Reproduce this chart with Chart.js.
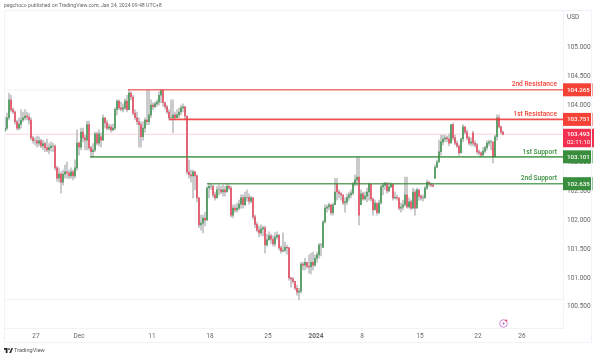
<!DOCTYPE html>
<html>
<head>
<meta charset="utf-8">
<script src="https://cdn.jsdelivr.net/npm/chart.js@4"></script>
<style>
  html, body { margin: 0; padding: 0; background: #fff; }
  body { width: 600px; height: 357px; position: relative; overflow: hidden; font-family: Roboto, "Liberation Sans", sans-serif; }
  #chartFx { position: absolute; left: 0; top: 0; }
  .frame { position: absolute; left: 4px; top: 10px; width: 588px; height: 333px; border: 1px solid #f0f3fa; box-sizing: border-box; }
  .head { position: absolute; left: 4px; top: 1px; font-size: 5.2px; line-height: 8px; color: #666; white-space: nowrap; }
  .foot { position: absolute; left: 14px; top: 346px; font-size: 5.6px; line-height: 8px; color: #555; white-space: nowrap; }
  .logo { position: absolute; left: 4px; top: 348px; }
  .cur { position: absolute; left: 567px; top: 13px; font-size: 6.5px; line-height: 9px; color: #666; }
  .flash { position: absolute; left: 498px; top: 318px; }
</style>
</head>
<body>
<canvas id="chartFx" width="600" height="357"></canvas>
<div class="frame"></div>
<div class="head">pegchoco published on TradingView.com, Jan 24, 2024 09:48 UTC+8</div>
<div class="cur">USD</div>
<svg class="flash" width="11" height="11" viewBox="0 0 11 11">
  <circle cx="5.5" cy="5.5" r="3.8" fill="none" stroke="#c77dd8" stroke-width="0.9"/>
  <path d="M6.2 3.4 4.2 6h1.3L4.9 7.7 7 5H5.7z" fill="#b45cc8"/>
  <circle cx="8.3" cy="2.5" r="1" fill="#f23645"/>
</svg>
<svg class="logo" width="9" height="5" viewBox="0 0 36 20"><path d="M0 0h14v20H7V7H0z M30 0h6l-8 20h-7z" fill="#222"/><circle cx="20" cy="4" r="3.5" fill="#222"/></svg>
<div class="foot">TradingView</div>
<script>
const opens = [
  103.55,103.60,103.78,104.09,103.92,103.88,103.71,103.60,103.67,103.74,
  103.78,103.81,103.79,103.74,103.43,103.38,103.38,103.34,103.38,103.29,
  103.33,103.26,103.22,103.26,103.29,103.29,102.91,102.73,102.80,102.66,
  102.80,102.84,102.82,102.77,102.84,102.77,102.91,103.34,103.27,103.53,
  103.43,103.39,103.66,103.26,103.19,103.22,103.50,103.34,103.45,103.39,
  103.78,103.69,103.60,103.62,103.57,103.60,103.92,104.07,103.95,103.93,
  103.95,104.07,103.92,104.21,104.14,103.86,103.78,103.71,103.66,103.45,
  103.60,103.74,103.71,103.83,104.00,103.97,104.02,104.05,104.17,104.26,
  104.04,103.97,103.88,103.78,103.78,103.83,103.78,103.83,103.88,103.95,
  103.97,103.81,102.84,102.79,102.77,102.84,102.77,102.39,101.92,101.95,
  102.04,102.00,102.56,102.59,102.59,102.44,102.39,102.53,102.53,102.49,
  102.53,102.49,102.59,102.56,102.09,102.21,102.18,102.21,102.28,102.39,
  102.27,102.40,102.40,102.33,102.39,102.06,101.93,101.83,101.78,101.85,
  101.87,101.57,101.66,101.73,101.67,101.59,101.71,101.74,101.52,101.47,
  101.48,101.53,101.52,101.00,100.98,100.94,100.82,100.75,100.77,101.24,
  101.22,101.27,101.20,101.19,101.27,101.22,101.34,101.40,101.57,101.53,
  101.97,102.21,102.23,102.27,102.13,102.27,102.63,102.49,102.46,102.44,
  102.30,102.32,102.40,102.44,102.47,102.63,102.70,102.75,102.27,102.46,
  102.37,102.42,102.49,102.63,102.37,102.18,102.30,102.13,102.30,102.58,
  102.61,102.65,102.51,102.58,102.63,102.39,102.40,102.39,102.21,102.23,
  102.27,102.44,102.23,102.32,102.21,102.49,102.21,102.53,102.42,102.39,
  102.39,102.56,102.66,102.63,102.61,102.73,102.92,103.01,103.19,103.36,
  103.41,103.43,103.41,103.34,103.66,103.43,103.34,103.29,103.17,103.41,
  103.62,103.53,103.43,103.34,103.52,103.34,103.31,103.19,103.17,103.13,
  103.20,103.26,103.34,103.36,103.36,103.10,103.45,103.78,103.62,103.53
];
const closes = [
  103.60,103.78,104.09,103.92,103.88,103.71,103.60,103.67,103.74,103.78,
  103.81,103.79,103.74,103.43,103.38,103.38,103.34,103.38,103.29,103.33,
  103.26,103.22,103.26,103.29,103.29,102.91,102.73,102.80,102.66,102.80,
  102.84,102.82,102.77,102.84,102.77,102.91,103.34,103.27,103.53,103.43,
  103.39,103.66,103.26,103.19,103.22,103.50,103.34,103.50,103.39,103.78,
  103.69,103.60,103.62,103.57,103.60,103.92,104.07,103.95,103.93,103.95,
  104.07,103.92,104.21,104.14,103.86,103.78,103.71,103.66,103.45,103.60,
  103.74,103.71,103.83,104.00,103.97,104.02,104.05,104.17,104.26,104.04,
  103.97,103.88,103.78,103.78,103.83,103.78,103.83,103.88,103.95,103.97,
  103.81,102.84,102.79,102.77,102.84,102.77,102.39,101.92,101.95,102.04,
  102.00,102.56,102.59,102.59,102.44,102.39,102.53,102.53,102.49,102.53,
  102.49,102.59,102.56,102.09,102.21,102.18,102.21,102.28,102.39,102.27,
  102.40,102.40,102.33,102.39,102.06,101.93,101.83,101.78,101.85,101.87,
  101.57,101.66,101.73,101.67,101.59,101.71,101.74,101.52,101.47,101.48,
  101.53,101.52,101.00,100.98,100.94,100.82,100.75,100.77,101.24,101.22,
  101.27,101.20,101.19,101.27,101.22,101.34,101.40,101.57,101.57,101.97,
  102.21,102.23,102.27,102.13,102.27,102.49,102.49,102.46,102.44,102.30,
  102.32,102.40,102.44,102.47,102.63,102.70,102.75,102.09,102.46,102.37,
  102.42,102.49,102.63,102.37,102.18,102.30,102.13,102.30,102.58,102.61,
  102.65,102.51,102.58,102.63,102.39,102.40,102.39,102.21,102.23,102.27,
  102.44,102.23,102.32,102.21,102.49,102.21,102.53,102.42,102.39,102.39,
  102.56,102.66,102.63,102.61,102.59,102.92,103.01,103.19,103.36,103.41,
  103.43,103.41,103.34,103.66,103.43,103.34,103.29,103.17,103.41,103.62,
  103.53,103.43,103.34,103.36,103.34,103.31,103.19,103.17,103.13,103.20,
  103.26,103.34,103.36,103.36,103.10,103.45,103.78,103.62,103.53,103.49
];
const highs = [
  103.79,103.86,104.21,104.17,103.95,103.90,103.74,103.78,103.92,103.88,
  103.92,103.88,103.85,103.78,103.46,103.43,103.46,103.45,103.41,103.39,
  103.36,103.41,103.33,103.36,103.34,103.31,102.94,102.91,102.84,102.87,
  102.96,103.01,102.87,102.91,102.87,103.05,103.57,103.36,103.60,103.60,
  103.48,103.72,103.72,103.29,103.33,103.53,103.53,103.57,103.52,103.83,
  103.78,103.74,103.67,103.66,103.67,103.95,104.09,104.09,104.05,104.02,
  104.11,104.17,104.26,104.23,104.17,103.92,103.88,103.78,103.71,103.71,
  103.78,104.26,104.26,104.09,104.04,104.05,104.09,104.23,104.26,104.26,
  104.05,104.00,103.92,104.09,104.09,103.88,103.92,103.95,104.00,104.02,
  103.98,103.81,103.05,102.87,102.87,102.85,102.79,102.39,102.09,102.09,
  102.14,102.59,102.65,102.63,102.61,102.49,102.59,102.61,102.59,102.61,
  102.59,102.63,102.61,102.59,102.27,102.27,102.30,102.35,102.44,102.44,
  102.49,102.53,102.46,102.42,102.40,102.09,101.97,101.90,101.92,101.90,
  101.90,101.76,101.80,101.76,101.73,101.78,101.80,101.76,101.55,101.78,
  101.62,101.57,101.53,101.01,101.01,100.89,100.87,100.82,101.27,101.27,
  101.34,101.27,101.40,101.43,101.45,101.40,101.45,101.60,101.60,102.00,
  102.27,102.27,102.30,102.27,102.30,102.73,102.73,102.53,102.49,102.44,
  102.39,102.46,102.49,102.53,102.66,102.79,103.10,103.10,102.53,102.49,
  102.49,102.56,102.65,102.53,102.39,102.35,102.25,102.35,102.61,102.65,
  102.65,102.61,102.65,102.65,102.63,102.49,102.44,102.32,102.30,102.35,
  102.75,102.75,102.39,102.35,102.56,102.53,102.56,102.53,102.44,102.44,
  102.59,102.70,102.68,102.65,102.63,102.96,103.05,103.39,103.48,103.48,
  103.48,103.46,103.50,103.66,103.69,103.48,103.38,103.31,103.43,103.66,
  103.62,103.57,103.46,103.43,103.55,103.38,103.34,103.22,103.19,103.26,
  103.29,103.38,103.39,103.39,103.26,103.48,103.83,103.83,103.64,103.55
];
const lows = [
  103.55,103.57,103.74,103.88,103.85,103.67,103.57,103.57,103.60,103.71,
  103.74,103.74,103.67,103.39,103.34,103.31,103.27,103.29,103.26,103.22,
  103.19,103.19,103.15,103.20,103.19,102.87,102.68,102.66,102.47,102.61,
  102.73,102.73,102.72,102.73,102.70,102.73,102.87,103.13,103.22,103.36,
  103.22,103.22,103.22,103.10,103.10,103.19,103.31,103.29,103.27,103.39,
  103.60,103.57,103.57,103.53,103.55,103.57,103.83,103.92,103.90,103.88,
  103.92,103.88,103.92,104.09,103.83,103.74,103.66,103.27,103.27,103.39,
  103.53,103.66,103.66,103.78,103.92,103.95,103.98,104.00,104.04,103.98,
  103.93,103.85,103.74,103.74,103.52,103.74,103.78,103.78,103.83,103.88,
  103.74,102.80,102.73,102.66,102.39,102.53,102.32,101.87,101.83,101.78,
  101.90,102.00,102.39,102.53,102.40,102.35,102.40,102.44,102.46,102.42,
  102.42,102.49,102.53,102.06,102.04,102.14,102.14,102.18,102.21,102.21,
  102.25,102.33,102.28,102.30,102.02,101.87,101.80,101.71,101.74,101.73,
  101.43,101.55,101.66,101.60,101.55,101.55,101.67,101.48,101.43,101.45,
  101.45,101.41,100.96,100.84,100.91,100.79,100.70,100.62,100.74,101.14,
  101.14,101.17,101.08,101.07,101.14,101.20,101.27,101.34,101.38,101.53,
  101.95,102.14,102.18,102.09,102.09,102.27,102.35,102.39,102.35,102.27,
  102.14,102.27,102.35,102.39,102.44,102.59,102.61,101.92,102.27,102.35,
  102.35,102.32,102.35,102.33,102.09,102.21,102.09,102.11,102.28,102.44,
  102.53,102.47,102.49,102.56,102.35,102.37,102.35,102.18,102.14,102.18,
  102.25,102.21,102.21,102.18,102.21,102.09,102.27,102.35,102.35,102.33,
  102.39,102.53,102.59,102.58,102.58,102.73,102.91,103.05,103.13,103.31,
  103.36,103.36,103.29,103.36,103.39,103.31,103.26,103.13,103.17,103.36,
  103.50,103.39,103.31,103.29,103.29,103.27,103.15,103.13,103.10,103.13,
  103.17,103.22,103.29,103.22,102.99,103.10,103.39,103.60,103.50,103.48
];

const levelNames = ['2nd Resistance', '1st Resistance', '1st Support', '2nd Support'];
const levelValues = [104.265, 103.751, 103.101, 102.635];
const levelStarts = [61.5, 82, 42.5, 101];
const levelColors = ['#f44336', '#f44336', '#388e3c', '#388e3c'];
const levelLines = ['rgba(240,84,84,0.8)', 'rgba(240,60,60,0.9)', 'rgba(56,142,60,0.8)', 'rgba(56,142,60,0.8)'];

const lastPrice = 103.493;
const countdown = '02:11:10';
const rangeMarks = [104.26, 100.62];

const yTicks = [100.5, 101, 101.5, 102, 102.5, 103, 103.5, 104, 104.5, 105];
const xTickPos = [15.5, 37, 73.5, 102.5, 131.5, 155.5, 178.5, 207.5, 236.5, 258.5];
const xTickNames = ['27', 'Dec', '11', '18', '25', '2024', '8', '15', '22', '26'];

const xMin = -0.5, xMax = 279;
const upCol = '#4f9c5f', downCol = '#e9566a', wickCol = '#c4c4c8';

const candleWicks = lows.map((l, i) => ({x: i, y: [l, highs[i]]}));
const candleBodies = opens.map((o, i) => ({x: i, y: [o, closes[i]]}));
const bodyColors = opens.map((o, i) => closes[i] >= o ? upCol : downCol);

const levelSets = levelValues.map((v, i) => ({
  type: 'line',
  data: [{x: levelStarts[i], y: v}, {x: xMax, y: v}],
  borderColor: levelLines[i],
  borderWidth: 1.6,
  pointRadius: 0,
  order: 0
}));
const markSets = rangeMarks.map(v => ({
  type: 'line',
  data: [{x: xMin, y: v}, {x: xMax, y: v}],
  borderColor: '#eff1f6',
  borderWidth: 1,
  pointRadius: 0,
  order: 4
}));

// tags on the price axis, drawn last so they cover the ticks like in TradingView
const tagPlugin = {
  id: 'tags',
  afterDraw(chart) {
    const ctx = chart.ctx, y = chart.scales.y, area = chart.chartArea;
    ctx.save();
    ctx.textBaseline = 'middle';
    levelValues.forEach((v, i) => {
      const py = y.getPixelForValue(v);
      ctx.fillStyle = levelColors[i];
      ctx.fillRect(area.right, py - 6.5, 29.5, 13);
      ctx.fillStyle = '#fff';
      ctx.textAlign = 'left';
      ctx.font = '500 6.2px Roboto';
      ctx.fillText(v.toFixed(3), area.right + 4, py + 0.3);
      ctx.fillStyle = levelColors[i];
      ctx.textAlign = 'right';
      ctx.font = '500 6.6px Roboto';
      ctx.fillText(levelNames[i], area.right - 6, py - 5);
    });
    const py = y.getPixelForValue(lastPrice);
    ctx.fillStyle = '#f2304f';
    ctx.fillRect(area.right, py - 5.5, 31, 18.5);
    ctx.fillStyle = '#fff';
    ctx.textAlign = 'left';
    ctx.font = '500 6.2px Roboto';
    ctx.fillText(lastPrice.toFixed(3), area.right + 4, py);
    ctx.font = '6px Roboto';
    ctx.fillText(countdown, area.right + 4, py + 8);
    ctx.restore();
  }
};

new Chart(document.getElementById('chartFx'), {
  type: 'bar',
  data: {
    datasets: [
      ...levelSets,
      {
        type: 'line',
        data: [{x: xMin, y: lastPrice}, {x: xMax, y: lastPrice}],
        borderColor: 'rgba(242,48,79,0.22)',
        borderWidth: 1,
        pointRadius: 0,
        order: 3
      },
      ...markSets,
      {data: candleBodies, backgroundColor: bodyColors, barThickness: 1.1, grouped: false, order: 1},
      {data: candleWicks, backgroundColor: wickCol, barThickness: 1.1, grouped: false, order: 2}
    ]
  },
  options: {
    responsive: false,
    animation: false,
    layout: {padding: {left: 4, top: 10, right: 8, bottom: 14}},
    plugins: {legend: {display: false}, tooltip: {enabled: false}},
    scales: {
      x: {
        type: 'linear',
        offset: false,
        min: xMin,
        max: xMax,
        grid: {display: false, drawTicks: false, offset: false},
        border: {color: '#f0f3fa'},
        afterBuildTicks: s => { s.ticks = xTickPos.map(v => ({value: v})); },
        afterFit: s => { s.height = 15; },
        ticks: {
          autoSkip: false,
          maxRotation: 0,
          padding: 4,
          color: '#666',
          font: c => ({family: 'Roboto', size: 6.5, weight: c.tick && xTickNames[xTickPos.indexOf(c.tick.value)] === '2024' ? 'bold' : 'normal'}),
          callback: v => xTickNames[xTickPos.indexOf(v)]
        }
      },
      y: {
        position: 'right',
        min: 100.13,
        max: 105.65,
        grid: {display: false, drawTicks: false},
        border: {color: '#f0f3fa'},
        afterBuildTicks: s => { s.ticks = yTicks.map(v => ({value: v})); },
        afterFit: s => { s.width = 29; },
        ticks: {
          autoSkip: false,
          padding: 4,
          color: '#666',
          font: {family: 'Roboto', size: 6.5},
          callback: v => v.toFixed(3)
        }
      }
    }
  },
  plugins: [tagPlugin]
});
</script>
</body>
</html>
